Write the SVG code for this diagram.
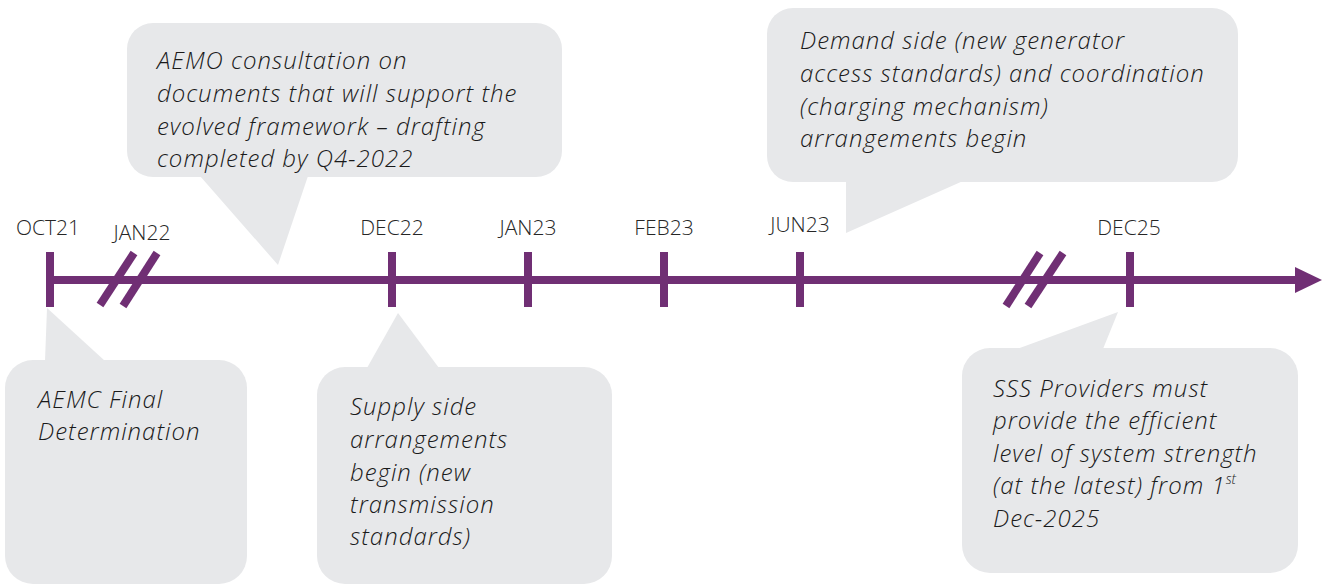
<svg xmlns="http://www.w3.org/2000/svg" width="1326" height="585" viewBox="0 0 1326 585">
<style>
.box{fill:#E7E8EA}
.t{font-family:"Open Sans","Noto Sans",sans-serif;font-style:italic;font-weight:300;font-size:24px;letter-spacing:1px;fill:#1A1A1A}
.lbl{font-family:"Open Sans","Noto Sans",sans-serif;font-weight:300;font-size:21px;fill:#262626;text-anchor:middle}
.ax{stroke:#702F74;stroke-width:8;fill:none}
</style>
<rect width="1326" height="585" fill="#FFFFFF"/>
<g id="callout-aemo">
<rect class="box" x="127" y="23" width="435" height="154" rx="26"/>
<polygon class="box" points="200,176 278,265 308,176"/>
<text class="t"><tspan x="157" y="69">AEMO consultation on</tspan><tspan x="157" y="102">documents that will support the</tspan><tspan x="157" y="135">evolved framework – drafting</tspan><tspan x="157" y="167">completed by Q4-2022</tspan></text>
</g>
<g id="callout-demand">
<rect class="box" x="767" y="8" width="471" height="174" rx="26"/>
<polygon class="box" points="846,181 846,233 963,181"/>
<text class="t"><tspan x="800" y="49">Demand side (new generator</tspan><tspan x="800" y="82">access standards) and coordination</tspan><tspan x="800" y="115">(charging mechanism)</tspan><tspan x="800" y="147">arrangements begin</tspan></text>
</g>
<g id="callout-aemc">
<rect class="box" x="5" y="360" width="242" height="224" rx="28"/>
<polygon class="box" points="45,361 47,308 105,361"/>
<text class="t"><tspan x="38" y="408">AEMC Final</tspan><tspan x="38" y="440">Determination</tspan></text>
</g>
<g id="callout-supply">
<rect class="box" x="317" y="367" width="295" height="217" rx="28"/>
<polygon class="box" points="367,368 398,313 439,368"/>
<text class="t"><tspan x="350" y="415">Supply side</tspan><tspan x="350" y="448">arrangements</tspan><tspan x="350" y="481">begin (new</tspan><tspan x="350" y="513">transmission</tspan><tspan x="350" y="545">standards)</tspan></text>
</g>
<g id="callout-sss">
<rect class="box" x="962" y="348" width="336" height="225" rx="28"/>
<polygon class="box" points="1017,349 1118,312 1103,349"/>
<text class="t"><tspan x="993" y="397">SSS Providers must</tspan><tspan x="993" y="429">provide the efficient</tspan><tspan x="993" y="462">level of system strength</tspan><tspan x="993" y="494">(at the latest) from 1<tspan font-size="14" letter-spacing="0" dy="-10">st</tspan></tspan><tspan x="993" y="527">Dec-2025</tspan></text>
</g>
<g id="connectors">
<line class="ax" x1="46" y1="280" x2="1298" y2="280"/>
<polygon points="1295,267 1322,280 1295,293" fill="#702F74"/>
<line class="ax" x1="50" y1="252" x2="50" y2="307"/>
<line class="ax" x1="392" y1="252" x2="392" y2="307"/>
<line class="ax" x1="528" y1="252" x2="528" y2="307"/>
<line class="ax" x1="664" y1="252" x2="664" y2="307"/>
<line class="ax" x1="800" y1="252" x2="800" y2="307"/>
<line class="ax" x1="1130" y1="252" x2="1130" y2="307"/>
<line class="ax" x1="134" y1="253" x2="100" y2="305"/>
<line class="ax" x1="157" y1="253" x2="123" y2="306"/>
<line class="ax" x1="1040" y1="253" x2="1006" y2="306"/>
<line class="ax" x1="1063" y1="253" x2="1028" y2="306"/>
</g>
<g id="labels">
<text class="lbl" x="48" y="235">OCT21</text>
<text class="lbl" x="142" y="240">JAN22</text>
<text class="lbl" x="392" y="235">DEC22</text>
<text class="lbl" x="528" y="235">JAN23</text>
<text class="lbl" x="664" y="235">FEB23</text>
<text class="lbl" x="800" y="232">JUN23</text>
<text class="lbl" x="1129" y="235">DEC25</text>
</g>
</svg>
